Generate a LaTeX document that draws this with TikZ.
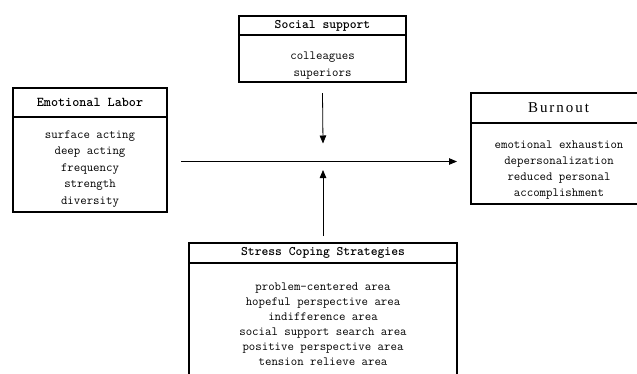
\documentclass[tikz,border=0pt]{standalone}
\usepackage{fontspec}
\newfontfamily\hdserif[LetterSpace=13]{Liberation Serif}
\usetikzlibrary{arrows.meta,positioning}

\tikzset{
  hd/.style={draw,line width=1.3pt,inner sep=0pt,outer sep=0pt,font=\ttfamily\bfseries\fontsize{13}{14}\selectfont},
  bd/.style={draw,line width=1.3pt,inner sep=0pt,outer sep=0pt,anchor=north},
  txt/.style={align=center,inner sep=0pt,font=\ttfamily\fontsize{12.5}{16.5}\selectfont},
  arr/.style={line width=0.8pt,-{Triangle[length=8pt,width=6.5pt]}}
}

\begin{document}
\begin{tikzpicture}[x=1pt,y=-1pt]
        \useasboundingbox (0,0) rectangle (637,373);
        \clip (0,0) rectangle (637,373);

        \node[hd,minimum width=167,minimum height=19] (sshd) at (322.5,25.5) {Social support};
        \node[bd,minimum width=167,minimum height=47] (ssbd) at (sshd.south) {};
        \node[txt] (sstxt) at (322.5,65.5) {colleagues\\superiors};

        \node[hd,minimum width=154,minimum height=29,font=\ttfamily\bfseries\fontsize{13.5}{14}\selectfont] (elhd) at (90,102.5) {Emotional Labor};
        \node[bd,minimum width=154,minimum height=95] (elbd) at (elhd.south) {};
        \node[txt] (eltxt) at (90,169) {surface acting\\deep acting\\frequency\\strength\\diversity};

        \node[hd,minimum width=175,minimum height=30,font=\hdserif\fontsize{15}{16}\selectfont] (bohd) at (558.5,108) {Burnout};
        \node[bd,minimum width=175,minimum height=81] (bobd) at (bohd.south) {};
        \node[txt,font=\ttfamily\fontsize{12.5}{16}\selectfont] (botxt) at (559,170) {emotional exhaustion\\depersonalization\\reduced personal\\accomplishment};

        \node[hd,minimum width=268,minimum height=20] (sthd) at (323,253) {Stress Coping Strategies};
        \node[bd,minimum width=268,minimum height=130] (stbd) at (sthd.south) {};
        \node[txt,font=\ttfamily\fontsize{12.5}{15}\selectfont] (sttxt) at (323,324.5) {problem-centered area\\hopeful perspective area\\indifference area\\social support search area\\positive perspective area\\tension relieve area};

        \coordinate (jn) at (323,161.5);
        \draw[arr] ([xshift=14]elbd.east |- jn) -- ([xshift=-14]bobd.west |- jn);
        \draw[arr] ([yshift=-11]ssbd.south) -- ([yshift=18]jn);
        \draw[arr] ([yshift=7]sthd.north) -- ([yshift=-8.5]jn);
      \end{tikzpicture}
\end{document}
